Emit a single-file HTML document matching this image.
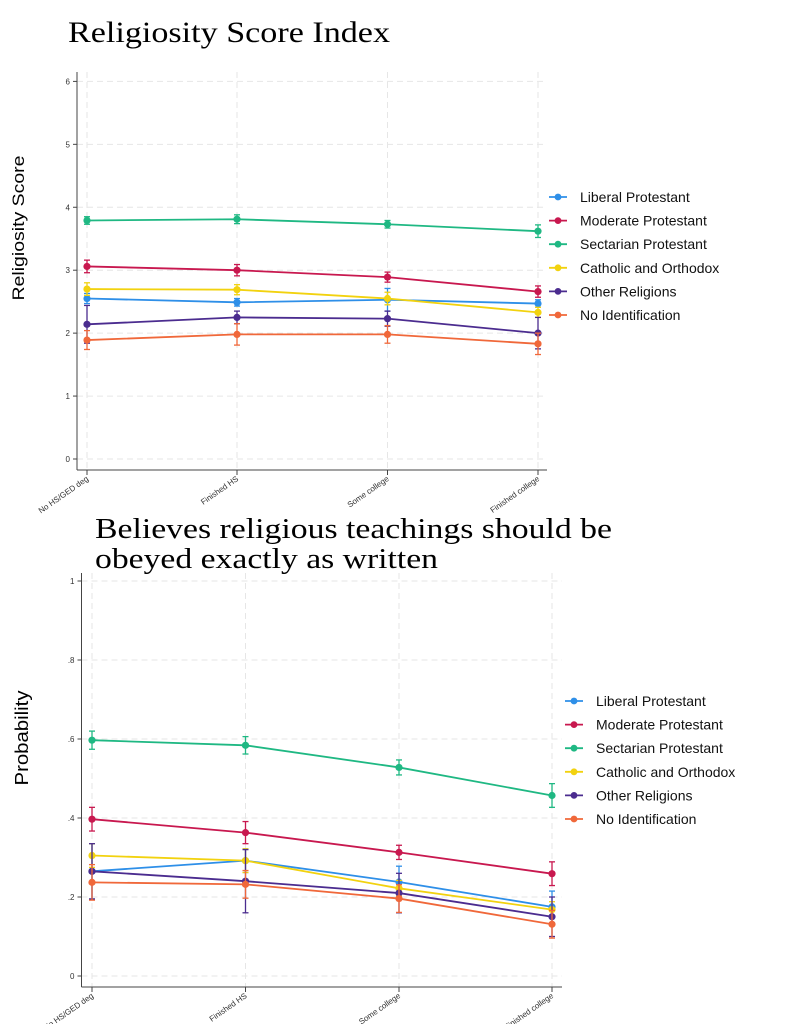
<!DOCTYPE html>
<html><head><meta charset="utf-8"><style>
body{margin:0;background:#fff;}
svg{display:block;}
</style></head><body>
<svg id="s" width="808" height="1024" xmlns="http://www.w3.org/2000/svg" font-family="Liberation Sans, sans-serif">
<text x="68" y="42" font-family="Liberation Serif, serif" font-size="30" fill="#000" textLength="322" lengthAdjust="spacingAndGlyphs">Religiosity Score Index</text>
<text x="95" y="538" font-family="Liberation Serif, serif" font-size="29" fill="#000" textLength="517" lengthAdjust="spacingAndGlyphs">Believes religious teachings should be</text>
<text x="95" y="568" font-family="Liberation Serif, serif" font-size="29" fill="#000" textLength="343" lengthAdjust="spacingAndGlyphs">obeyed exactly as written</text>
<text transform="translate(24,228) rotate(-90)" text-anchor="middle" font-size="17" fill="#000" textLength="145" lengthAdjust="spacingAndGlyphs">Religiosity Score</text>
<text transform="translate(28,738) rotate(-90)" text-anchor="middle" font-size="18" fill="#000" textLength="95" lengthAdjust="spacingAndGlyphs">Probability</text>
</svg>
<script>
const s=document.getElementById('s');
const NS='http://www.w3.org/2000/svg';
function el(t,a,txt){const e=document.createElementNS(NS,t);for(const k in a)e.setAttribute(k,a[k]);if(txt)e.textContent=txt;s.appendChild(e);return e;}
const cols=['#2e8fe8','#c8184f','#1fb883','#f2d20f','#4b2c8f','#f0683a'];
const names=['Liberal Protestant','Moderate Protestant','Sectarian Protestant','Catholic and Orthodox','Other Religions','No Identification'];
const cats=['No HS/GED deg','Finished HS','Some college','Finished college'];
function chart(c){
  const {ax,ay,ar,xs,y0,y1,v0,v1,ticks,labels,data,err,top,lx,ly}=c;
  const Y=v=>y0+(v-v0)/(v1-v0)*(y1-y0);
  ticks.forEach(t=>el('line',{x1:ax,x2:ar,y1:Y(t),y2:Y(t),stroke:'#e6e6e6','stroke-dasharray':'6,4','stroke-width':1}));
  xs.forEach(x=>el('line',{x1:x,x2:x,y1:top,y2:ay,stroke:'#e6e6e6','stroke-dasharray':'6,4','stroke-width':1}));
  el('line',{x1:ax,x2:ax,y1:top,y2:ay,stroke:'#444','stroke-width':1});
  el('line',{x1:ax,x2:ar,y1:ay,y2:ay,stroke:'#444','stroke-width':1});
  ticks.forEach((t,i)=>{el('line',{x1:ax-4,x2:ax,y1:Y(t),y2:Y(t),stroke:'#444'});
    el('text',{x:ax-7,y:Y(t)+3,'text-anchor':'end','font-size':8,fill:'#333'},labels[i]);});
  xs.forEach((x,i)=>{el('line',{x1:x,x2:x,y1:ay,y2:ay+5,stroke:'#444'});
    el('text',{transform:`translate(${x+2},${ay+10}) rotate(-35)`,'text-anchor':'end','font-size':8,fill:'#333'},cats[i]);});
  data.forEach((d,k)=>{
    el('polyline',{points:d.map((v,i)=>xs[i]+','+Y(v)).join(' '),fill:'none',stroke:cols[k],'stroke-width':1.8});
    d.forEach((v,i)=>{const e=err[k][i];
      el('line',{x1:xs[i],x2:xs[i],y1:Y(v-e),y2:Y(v+e),stroke:cols[k],'stroke-width':1.3});
      [v-e,v+e].forEach(w=>el('line',{x1:xs[i]-3,x2:xs[i]+3,y1:Y(w),y2:Y(w),stroke:cols[k],'stroke-width':1.3}));
      el('circle',{cx:xs[i],cy:Y(v),r:3.6,fill:cols[k]});});
  });
  names.forEach((n,k)=>{const y=ly+k*23.6;
    el('line',{x1:lx-16,x2:lx+2,y1:y,y2:y,stroke:cols[k],'stroke-width':1.8});
    el('circle',{cx:lx-7,cy:y,r:3.4,fill:cols[k]});
    el('text',{x:lx+15,y:y+5,'font-size':14,fill:'#111'},n);});
}
chart({ax:77,ay:470,ar:547,xs:[87,237,387.5,538],y0:459,y1:81.4,v0:0,v1:6,top:72,
 ticks:[0,1,2,3,4,5,6],labels:['0','1','2','3','4','5','6'],
 data:[[2.55,2.49,2.53,2.47],[3.06,3.00,2.89,2.66],[3.79,3.81,3.73,3.62],[2.70,2.69,2.55,2.33],[2.14,2.25,2.23,2.00],[1.89,1.98,1.98,1.83]],
 err:[[0.08,0.06,0.18,0.06],[0.1,0.09,0.08,0.09],[0.06,0.07,0.06,0.1],[0.1,0.08,0.1,0.08],[0.3,0.1,0.12,0.25],[0.15,0.17,0.14,0.17]],
 lx:565,ly:197});
chart({ax:81.5,ay:987,ar:562,xs:[92,245.5,399,552],y0:976,y1:581,v0:0,v1:1,top:573,
 ticks:[0,0.2,0.4,0.6,0.8,1],labels:['0','.2','.4','.6','.8','1'],
 data:[[0.265,0.292,0.238,0.175],[0.397,0.363,0.313,0.259],[0.597,0.584,0.528,0.457],[0.305,0.292,0.222,0.168],[0.265,0.240,0.210,0.150],[0.237,0.232,0.196,0.131]],
 err:[[0.07,0.03,0.04,0.04],[0.03,0.028,0.018,0.03],[0.023,0.022,0.019,0.03],[0.03,0.03,0.02,0.02],[0.07,0.08,0.05,0.05],[0.045,0.035,0.035,0.035]],
 lx:581,ly:701});
</script>
</body></html>
